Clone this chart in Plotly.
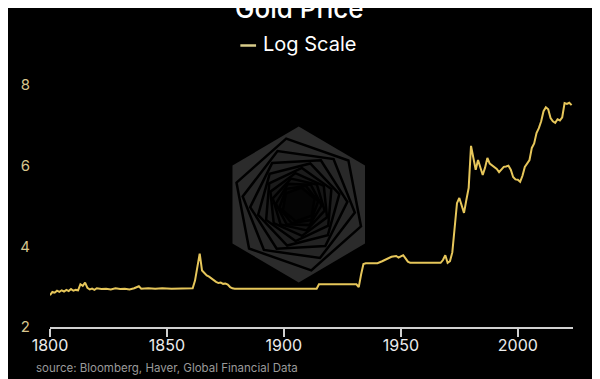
import math
import plotly.graph_objects as go

# ---- data ----
years = [1800, 1801, 1802, 1803, 1804, 1805, 1806, 1807, 1808, 1809, 1810, 1811, 1812,
         1813, 1814, 1815, 1816, 1817, 1818, 1819, 1820, 1822, 1824, 1826, 1828, 1830,
         1832, 1834, 1836, 1838, 1839, 1842, 1845, 1848, 1852, 1856, 1861, 1862, 1863,
         1864, 1865, 1866, 1867, 1868, 1869, 1870, 1871, 1872, 1873, 1874, 1875, 1876,
         1877, 1878, 1879, 1914, 1915, 1931, 1932, 1933, 1934, 1935, 1940, 1942, 1944,
         1946, 1948, 1949, 1950, 1951, 1952, 1953, 1954, 1967, 1968, 1969, 1970, 1971,
         1972, 1973, 1974, 1975, 1976, 1977, 1978, 1979, 1980, 1981, 1982, 1983, 1984,
         1985, 1986, 1987, 1988, 1989, 1990, 1991, 1992, 1993, 1994, 1995, 1996, 1997,
         1998, 1999, 2000, 2001, 2002, 2003, 2004, 2005, 2006, 2007, 2008, 2009, 2010,
         2011, 2012, 2013, 2014, 2015, 2016, 2017, 2018, 2019, 2020, 2021, 2022, 2023]
log_price = [2.79, 2.87, 2.85, 2.90, 2.87, 2.91, 2.88, 2.92, 2.89, 2.94, 2.90, 2.92, 2.91,
             3.06, 3.02, 3.10, 2.97, 2.93, 2.95, 2.92, 2.96, 2.94, 2.95, 2.93, 2.96, 2.94,
             2.95, 2.93, 2.96, 3.01, 2.95, 2.96, 2.95, 2.96, 2.95, 2.96, 2.96, 3.15, 3.45,
             3.82, 3.40, 3.34, 3.28, 3.25, 3.20, 3.16, 3.12, 3.09, 3.10, 3.07, 3.08, 3.05,
             2.99, 2.96, 2.95, 2.95, 3.06, 3.06, 2.99, 3.30, 3.56, 3.58, 3.58, 3.63, 3.69,
             3.74, 3.76, 3.72, 3.75, 3.78, 3.70, 3.62, 3.59, 3.59, 3.66, 3.78, 3.59, 3.63,
             3.85, 4.50, 5.07, 5.20, 4.98, 4.83, 5.15, 5.45, 6.49, 6.15, 5.90, 6.14, 5.95,
             5.77, 5.95, 6.19, 6.05, 6.00, 5.97, 5.92, 5.84, 5.90, 5.97, 5.98, 6.00, 5.90,
             5.72, 5.66, 5.65, 5.60, 5.75, 5.97, 6.05, 6.14, 6.44, 6.55, 6.81, 6.93, 7.10,
             7.35, 7.45, 7.40, 7.18, 7.10, 7.06, 7.15, 7.12, 7.20, 7.55, 7.53, 7.56, 7.50]
x_ticks = [1800, 1850, 1900, 1950, 2000]
y_ticks = [2, 4, 6, 8]

title_text = "Gold Price"
series_name = "Log Scale"
source_text = "source: Bloomberg, Haver, Global Financial Data"

# ---- layout geometry (page has an 8px body margin) ----
OFF = 8
W, H = 600 - OFF, 379 - OFF
ML, MR, MT, MB = 40 - OFF, 27, 85 - OFF, 52
PW, PH = W - ML - MR, H - MT - MB

GOLD = "#e6c65a"
FONT = "Inter"


def px_to_paper(px, py):
    """Convert a position in window pixels to paper coordinates."""
    fx, fy = px - OFF, py - OFF
    return (fx - ML) / PW, (H - MB - fy) / PH


def hex_path(cx, cy, r, rot_deg):
    pts = []
    for k in range(6):
        a = math.radians(90 + rot_deg + 60 * k)
        pts.append(px_to_paper(cx + r * math.cos(a), cy - r * math.sin(a)))
    return "M " + " L ".join(f"{x:.4f},{y:.4f}" for x, y in pts) + " Z"


fig = go.Figure()
fig.add_trace(go.Scatter(x=years, y=log_price, mode="lines", name=series_name,
                         line=dict(color=GOLD, width=2), showlegend=False))

shapes = []
# watermark logo
cx, cy, R = 293.5, 204.5, 78
shapes.append(dict(type="path", xref="paper", yref="paper", layer="below",
                   path=hex_path(cx, cy, R, 0), fillcolor="#2b2b2b",
                   line=dict(width=0)))
fills = ["#292929", "#262626", "#232323", "#1f1f1f", "#1b1b1b", "#161616",
         "#121212", "#0d0d0d", "#080808", "#040404"]
r = R
for i, fc in enumerate(fills):
    r *= 0.86
    shapes.append(dict(type="path", xref="paper", yref="paper", layer="below",
                       path=hex_path(cx, cy, r, 11 * (i + 1)), fillcolor=fc,
                       line=dict(color="#000000", width=2.5)))

# legend marker
lx0, ly = px_to_paper(234, 45.5)
lx1, _ = px_to_paper(250, 45.5)
shapes.append(dict(type="line", xref="paper", yref="paper", x0=lx0, x1=lx1,
                   y0=ly, y1=ly, line=dict(color="#d8cc8a", width=2.5)))

ann = []
tx, ty = px_to_paper(294, 26)
ann.append(dict(text=title_text, xref="paper", yref="paper", x=tx, y=ty,
                xanchor="center", yanchor="bottom", showarrow=False,
                font=dict(family=FONT, size=26, color="#ffffff", weight=500)))
ax, ay = px_to_paper(255, 44.5)
ann.append(dict(text=series_name, xref="paper", yref="paper", x=ax, y=ay,
                xanchor="left", yanchor="middle", showarrow=False,
                font=dict(family=FONT, size=20, color="#ffffff")))
sx, sy = px_to_paper(24, 367.5)
ann.append(dict(text=source_text, xref="paper", yref="paper", x=sx, y=sy,
                xanchor="left", yanchor="middle", showarrow=False,
                font=dict(family=FONT, size=11.5, color="#9a9a9a")))

fig.update_layout(
    width=W, height=H,
    margin=dict(l=ML, r=MR, t=MT, b=MB, pad=0),
    paper_bgcolor="#000000", plot_bgcolor="#000000",
    font=dict(family=FONT),
    shapes=shapes, annotations=ann,
    xaxis=dict(range=[1800, 2023.6], tickvals=x_ticks, showgrid=False, zeroline=False,
               showline=True, linecolor="#d0d0d0", linewidth=1.5,
               ticks="outside", ticklen=8, tickwidth=1.5, tickcolor="#d0d0d0",
               ticklabelstandoff=-5,
               tickfont=dict(family=FONT, size=16, color="#ececec")),
    yaxis=dict(range=[2, 8], tickvals=y_ticks, showgrid=False, zeroline=False,
               showline=False, ticks="", ticklabelstandoff=19,
               tickfont=dict(family=FONT, size=15, color="#d8c68e")),
)

fig.write_html("out.html")
